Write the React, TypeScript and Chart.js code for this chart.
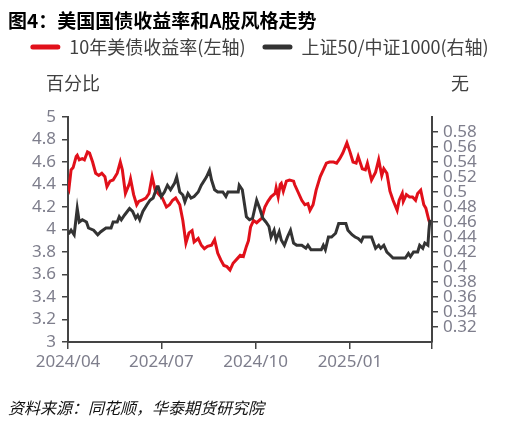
import { useEffect, useRef } from "react";
import { Chart, registerables } from "chart.js";

Chart.register(...registerables);

// Days counted from 2024-04-01
const redDays = [0, 1, 3, 5, 8, 9, 11, 14, 16, 19, 21, 24, 27, 30, 33, 36, 38, 41, 44, 48, 51, 53, 56, 60, 61, 64, 67, 69, 72, 76, 79, 82, 85, 89, 92, 96, 99, 102, 105, 109, 112, 115, 118, 121, 123, 127, 130, 133, 136, 140, 143, 146, 149, 152, 155, 158, 161, 166, 168, 171, 174, 176, 178, 181, 184, 189, 192, 195, 198, 202, 203, 205, 207, 208, 210, 213, 216, 220, 221, 224, 228, 231, 234, 236, 239, 242, 246, 249, 252, 255, 259, 262, 265, 268, 272, 275, 278, 281, 283, 287, 290, 292, 296, 300, 303, 306, 308, 311, 314, 317, 321, 323, 326, 327, 330, 333, 336, 339, 341, 344, 347, 349, 352, 353];
const redYield = [4.40, 4.37, 4.53, 4.55, 4.65, 4.66, 4.62, 4.63, 4.62, 4.69, 4.68, 4.60, 4.50, 4.48, 4.50, 4.47, 4.38, 4.43, 4.44, 4.50, 4.60, 4.53, 4.32, 4.41, 4.45, 4.31, 4.22, 4.25, 4.26, 4.28, 4.32, 4.47, 4.35, 4.31, 4.28, 4.20, 4.22, 4.26, 4.28, 4.22, 4.08, 3.88, 3.97, 3.99, 3.89, 3.92, 3.86, 3.83, 3.85, 3.86, 3.91, 3.79, 3.73, 3.68, 3.67, 3.64, 3.70, 3.75, 3.77, 3.76, 3.85, 3.90, 4.02, 4.08, 4.06, 4.10, 4.20, 4.25, 4.29, 4.32, 4.37, 4.29, 4.40, 4.41, 4.34, 4.43, 4.44, 4.43, 4.40, 4.34, 4.26, 4.22, 4.23, 4.17, 4.22, 4.35, 4.47, 4.53, 4.59, 4.60, 4.60, 4.59, 4.63, 4.68, 4.77, 4.69, 4.60, 4.59, 4.65, 4.54, 4.53, 4.59, 4.44, 4.51, 4.62, 4.48, 4.54, 4.50, 4.34, 4.26, 4.17, 4.26, 4.32, 4.25, 4.31, 4.29, 4.29, 4.26, 4.32, 4.35, 4.22, 4.19, 4.08, 4.06];

const styleDays = [0, 1, 3, 6, 9, 11, 14, 18, 20, 25, 29, 32, 37, 42, 44, 48, 50, 52, 55, 60, 63, 66, 68, 70, 73, 77, 80, 83, 87, 88, 91, 94, 97, 100, 104, 106, 109, 112, 114, 117, 120, 123, 127, 130, 135, 138, 140, 143, 146, 151, 154, 156, 161, 166, 167, 170, 174, 177, 180, 184, 187, 190, 193, 196, 198, 201, 203, 206, 208, 211, 214, 217, 220, 223, 228, 232, 234, 237, 242, 247, 249, 251, 254, 257, 261, 264, 268, 271, 273, 277, 280, 283, 286, 288, 293, 296, 300, 303, 305, 308, 311, 314, 317, 324, 329, 332, 334, 337, 341, 343, 346, 348, 351, 352, 353];
const styleRatio = [0.445, 0.445, 0.449, 0.443, 0.478, 0.460, 0.463, 0.460, 0.452, 0.449, 0.443, 0.447, 0.452, 0.452, 0.460, 0.460, 0.467, 0.463, 0.469, 0.478, 0.474, 0.465, 0.469, 0.463, 0.474, 0.483, 0.489, 0.492, 0.507, 0.507, 0.494, 0.500, 0.509, 0.503, 0.512, 0.520, 0.500, 0.496, 0.487, 0.498, 0.492, 0.494, 0.500, 0.509, 0.520, 0.529, 0.516, 0.503, 0.500, 0.500, 0.494, 0.500, 0.500, 0.500, 0.509, 0.503, 0.467, 0.463, 0.465, 0.489, 0.478, 0.465, 0.460, 0.454, 0.440, 0.449, 0.436, 0.447, 0.436, 0.429, 0.440, 0.449, 0.432, 0.429, 0.429, 0.425, 0.429, 0.423, 0.423, 0.423, 0.429, 0.423, 0.440, 0.440, 0.445, 0.458, 0.458, 0.458, 0.449, 0.443, 0.440, 0.438, 0.434, 0.440, 0.440, 0.440, 0.425, 0.429, 0.425, 0.429, 0.420, 0.416, 0.412, 0.412, 0.412, 0.418, 0.414, 0.420, 0.420, 0.429, 0.425, 0.432, 0.429, 0.449, 0.463];

const xTickDays = [0, 91, 183, 275, 355];
const xTickLabels = ["2024/04", "2024/07", "2024/10", "2025/01", ""];
const seriesNames = ["10年美债收益率(左轴)", "上证50/中证1000(右轴)"];
const leftAxisTitle = "百分比";
const rightAxisTitle = "无";
const chartTitle = "图4：美国国债收益率和A股风格走势";
const sourceNote = "资料来源：同花顺，华泰期货研究院";

const CJK = "'Noto Sans CJK SC', 'Noto Sans', sans-serif";
const NUM = "'Noto Sans', 'DejaVu Sans', sans-serif";
const TICK_COLOR = "#7e7e8c";
const AXIS_COLOR = "#444444";
const RED = "#e1101a";
const DARK = "#333333";

export default function App() {
  const ref = useRef<HTMLCanvasElement | null>(null);

  useEffect(() => {
    if (!ref.current) return;
    const axisTitles = {
      id: "axisTitles",
      afterDraw(chart: any) {
        const { ctx, chartArea } = chart;
        ctx.save();
        ctx.font = `18px ${CJK}`;
        ctx.fillStyle = "#404040";
        ctx.textAlign = "center";
        ctx.textBaseline = "middle";
        ctx.fillText(leftAxisTitle, chartArea.left + 5, chartArea.top - 34);
        ctx.fillText(rightAxisTitle, chartArea.right + 28, chartArea.top - 34);
        ctx.restore();
      },
    };

    const tickFont = { family: NUM, size: 17 };
    const gridOpts = {
      display: true,
      drawOnChartArea: false,
      drawTicks: true,
      tickLength: 6,
      color: AXIS_COLOR,
      lineWidth: 1.5,
    };
    const borderOpts = { display: true, color: AXIS_COLOR, width: 2 };

    const chart = new Chart(ref.current, {
      type: "line",
      data: {
        datasets: [
          {
            label: seriesNames[0],
            data: redDays.map((d, i) => ({ x: d, y: redYield[i] })),
            yAxisID: "y",
            borderColor: RED,
            backgroundColor: RED,
            borderWidth: 3,
            pointRadius: 0,
            tension: 0,
            order: 1,
          },
          {
            label: seriesNames[1],
            data: styleDays.map((d, i) => ({ x: d, y: styleRatio[i] })),
            yAxisID: "y1",
            borderColor: DARK,
            backgroundColor: DARK,
            borderWidth: 3,
            pointRadius: 0,
            tension: 0,
            order: 0,
          },
        ],
      },
      options: {
        animation: false,
        responsive: false,
        maintainAspectRatio: false,
        layout: { padding: { top: 21, left: 8, right: 8, bottom: 0 } },
        plugins: {
          legend: {
            position: "top",
            align: "center",
            labels: {
              boxWidth: 30,
              boxHeight: 5,
              useBorderRadius: true,
              borderRadius: 2.5,
              padding: 17,
              color: "#404040",
              font: { family: CJK, size: 18 },
              sort: (a: any, b: any) => a.datasetIndex - b.datasetIndex,
              generateLabels: (c: any) =>
                (Chart.defaults.plugins.legend.labels as any)
                  .generateLabels(c)
                  .map((l: any) => ({ ...l, lineWidth: 0 })),
            },
          },
          subtitle: {
            display: true,
            text: " ",
            position: "top",
            weight: 500,
            padding: { top: 15, bottom: 15 },
            font: { size: 18, lineHeight: "21px" },
          } as any,
          title: { display: false },
          tooltip: { enabled: false },
        },
        scales: {
          x: {
            type: "linear",
            min: 0,
            max: 355,
            afterBuildTicks: (s: any) => {
              s.ticks = xTickDays.map((v) => ({ value: v }));
            },
            afterFit: (s: any) => {
              s.height = 84;
            },
            ticks: {
              autoSkip: false,
              maxRotation: 0,
              color: TICK_COLOR,
              font: tickFont,
              padding: 3,
              callback: (v: any) => {
                const i = xTickDays.indexOf(Number(v));
                return i >= 0 ? xTickLabels[i] : "";
              },
            },
            grid: { ...gridOpts, tickLength: 7 },
            border: borderOpts,
          },
          y: {
            position: "left",
            min: 3,
            max: 5,
            afterFit: (s: any) => {
              s.width = 60;
            },
            ticks: {
              stepSize: 0.2,
              autoSkip: false,
              color: TICK_COLOR,
              font: tickFont,
              padding: 6,
              callback: (v: any) => String(Math.round(Number(v) * 10) / 10),
            },
            grid: gridOpts,
            border: borderOpts,
          },
          y1: {
            position: "right",
            min: 0.3,
            max: 0.6,
            afterBuildTicks: (s: any) => {
              s.ticks = s.ticks.filter((t: any) => t.value > 0.305 && t.value < 0.595);
            },
            afterFit: (s: any) => {
              s.width = 79;
            },
            ticks: {
              stepSize: 0.02,
              autoSkip: false,
              color: TICK_COLOR,
              font: tickFont,
              padding: 5,
              callback: (v: any) => String(Math.round(Number(v) * 100) / 100),
            },
            grid: gridOpts,
            border: borderOpts,
          },
        },
      } as any,
      plugins: [axisTitles],
    });
    return () => chart.destroy();
  }, []);

  return (
    <div
      style={{
        position: "fixed",
        left: 0,
        top: 0,
        width: 519,
        height: 426,
        background: "#ffffff",
        overflow: "hidden",
      }}
    >
      <canvas
        ref={ref}
        width={519}
        height={426}
        style={{ position: "absolute", left: 0, top: 0, width: 519, height: 426 }}
      />
      <div
        style={{
          position: "absolute",
          left: 8,
          top: 7,
          fontFamily: CJK,
          fontWeight: 700,
          fontSize: 19,
          lineHeight: "26px",
          color: "#000",
          whiteSpace: "nowrap",
        }}
      >
        {chartTitle}
      </div>
      <div
        style={{
          position: "absolute",
          left: 8,
          top: 396,
          fontFamily: CJK,
          fontStyle: "italic",
          fontSize: 16,
          lineHeight: "22px",
          color: "#111",
          whiteSpace: "nowrap",
        }}
      >
        {sourceNote}
      </div>
    </div>
  );
}
